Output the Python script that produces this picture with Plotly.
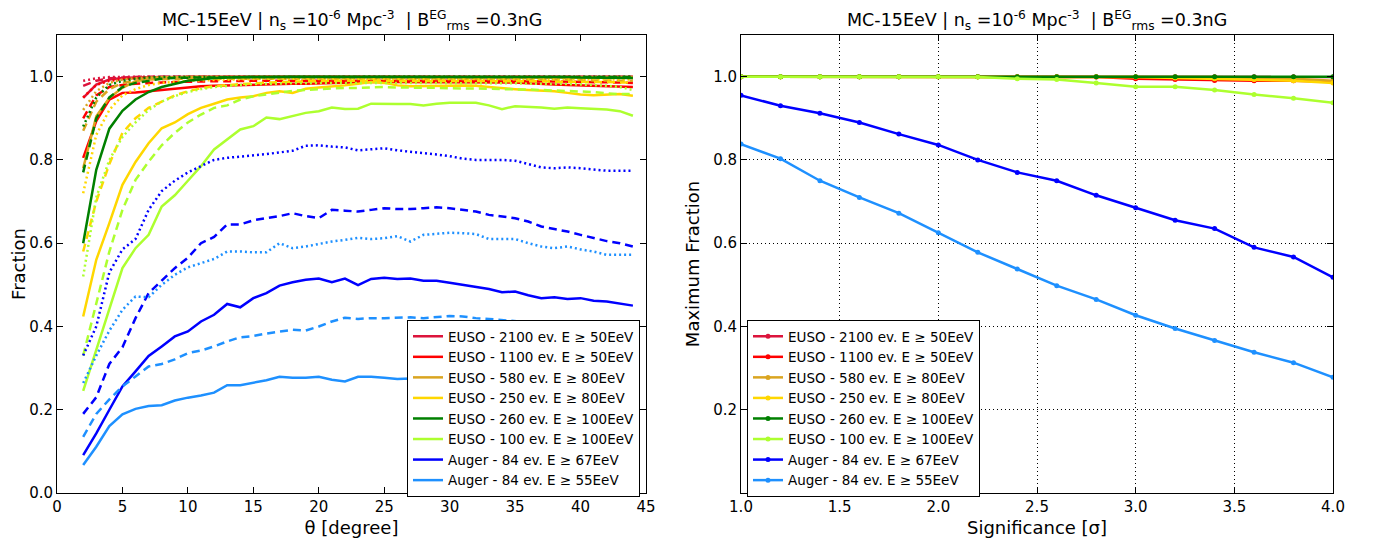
import plotly.graph_objects as go

# ---------------- data ----------------
theta = [2, 3, 4, 5, 6, 7, 8, 9, 10, 11,
         12, 13, 14, 15, 16, 17, 18, 19, 20, 21,
         22, 23, 24, 25, 26, 27, 28, 29, 30, 31,
         32, 33, 34, 35, 36, 37, 38, 39, 40, 41,
         42, 43, 44]

labels = ["EUSO - 2100 ev. E ≥ 50EeV", "EUSO - 1100 ev. E ≥ 50EeV",
          "EUSO - 580 ev. E ≥ 80EeV", "EUSO - 250 ev. E ≥ 80EeV",
          "EUSO - 260 ev. E ≥ 100EeV", "EUSO - 100 ev. E ≥ 100EeV",
          "Auger - 84 ev. E ≥ 67EeV", "Auger - 84 ev. E ≥ 55EeV"]

colors = ["#DC143C", "#FF0000", "#DAA520", "#FFD700",
          "#008000", "#ADFF2F", "#0000FF", "#1E90FF"]

crimson_solid = [0.949, 0.981, 0.993, 0.997, 0.998, 0.999, 0.999, 0.999, 1.0, 1.0,
                 1.0, 1.0, 1.0, 1.0, 1.0, 1.0, 1.0, 1.0, 1.0, 1.0,
                 1.0, 1.0, 1.0, 1.0, 1.0, 1.0, 1.0, 1.0, 1.0, 1.0,
                 1.0, 1.0, 1.0, 1.0, 1.0, 1.0, 1.0, 1.0, 1.0, 1.0,
                 1.0, 1.0, 0.999]
crimson_dash = [0.978, 0.990, 0.996, 0.998, 0.999, 1.0, 1.0, 1.0, 1.0, 1.0,
                1.0, 1.0, 1.0, 1.0, 1.0, 1.0, 1.0, 1.0, 1.0, 1.0,
                1.0, 1.0, 1.0, 1.0, 1.0, 1.0, 1.0, 1.0, 1.0, 1.0,
                1.0, 1.0, 1.0, 1.0, 1.0, 1.0, 1.0, 1.0, 1.0, 1.0,
                1.0, 1.0, 1.0]
crimson_dot = [0.990, 0.996, 0.999, 1.0, 1.0, 1.0, 1.0, 1.0, 1.0, 1.0,
               1.0, 1.0, 1.0, 1.0, 1.0, 1.0, 1.0, 1.0, 1.0, 1.0,
               1.0, 1.0, 1.0, 1.0, 1.0, 1.0, 1.0, 1.0, 1.0, 1.0,
               1.0, 1.0, 1.0, 1.0, 1.0, 1.0, 1.0, 1.0, 1.0, 1.0,
               1.0, 1.0, 1.0]

red_solid = [0.805, 0.893, 0.945, 0.961, 0.962, 0.965, 0.969, 0.971, 0.974, 0.977,
             0.978, 0.979, 0.980, 0.980, 0.981, 0.982, 0.983, 0.983, 0.984, 0.985,
             0.986, 0.986, 0.987, 0.987, 0.987, 0.987, 0.987, 0.987, 0.987, 0.987,
             0.987, 0.987, 0.987, 0.986, 0.984, 0.982, 0.981, 0.980, 0.979, 0.978,
             0.977, 0.976, 0.975]
red_dash = [0.900, 0.955, 0.975, 0.980, 0.983, 0.985, 0.986, 0.987, 0.988, 0.988,
            0.989, 0.989, 0.990, 0.990, 0.990, 0.990, 0.991, 0.991, 0.991, 0.991,
            0.991, 0.991, 0.991, 0.991, 0.991, 0.991, 0.991, 0.991, 0.991, 0.990,
            0.990, 0.990, 0.990, 0.990, 0.989, 0.989, 0.988, 0.988, 0.987, 0.987,
            0.986, 0.986, 0.985]
red_dot = [0.950, 0.980, 0.990, 0.994, 0.996, 0.997, 0.997, 0.998, 0.998, 0.998,
           0.998, 0.998, 0.998, 0.998, 0.998, 0.998, 0.998, 0.998, 0.998, 0.998,
           0.998, 0.998, 0.998, 0.998, 0.998, 0.998, 0.998, 0.998, 0.998, 0.998,
           0.998, 0.998, 0.998, 0.998, 0.998, 0.997, 0.997, 0.997, 0.997, 0.997,
           0.997, 0.997, 0.997]

goldenrod_solid = [0.780, 0.905, 0.949, 0.973, 0.989, 0.996, 0.998, 0.999, 0.999, 0.999,
                   0.999, 0.999, 0.999, 0.999, 0.999, 0.999, 0.999, 0.999, 0.999, 0.999,
                   0.999, 0.999, 0.999, 0.999, 0.999, 0.999, 0.999, 0.999, 0.999, 0.999,
                   0.999, 0.999, 0.999, 0.999, 0.999, 0.999, 0.999, 0.999, 0.999, 0.999,
                   0.998, 0.998, 0.998]
goldenrod_dash = [0.870, 0.940, 0.970, 0.985, 0.990, 0.993, 0.994, 0.995, 0.995, 0.995,
                  0.995, 0.995, 0.995, 0.995, 0.995, 0.995, 0.995, 0.995, 0.995, 0.995,
                  0.995, 0.995, 0.995, 0.995, 0.995, 0.995, 0.995, 0.995, 0.995, 0.995,
                  0.994, 0.994, 0.994, 0.993, 0.993, 0.993, 0.992, 0.992, 0.992, 0.991,
                  0.991, 0.990, 0.990]
goldenrod_dot = [0.920, 0.965, 0.985, 0.993, 0.996, 0.998, 0.998, 0.999, 0.999, 0.999,
                 0.999, 0.999, 0.999, 0.999, 0.999, 0.999, 0.999, 0.999, 0.999, 0.999,
                 0.999, 0.999, 0.999, 0.999, 0.999, 0.999, 0.999, 0.999, 0.999, 0.999,
                 0.999, 0.999, 0.999, 0.999, 0.999, 0.999, 0.999, 0.999, 0.999, 0.999,
                 0.999, 0.999, 0.999]

yellow_solid = [0.424, 0.560, 0.648, 0.740, 0.795, 0.840, 0.876, 0.890, 0.910, 0.925,
                0.935, 0.945, 0.950, 0.953, 0.961, 0.965, 0.961, 0.971, 0.974, 0.976,
                0.979, 0.983, 0.987, 0.985, 0.979, 0.977, 0.977, 0.977, 0.978, 0.979,
                0.978, 0.975, 0.972, 0.970, 0.968, 0.966, 0.965, 0.961, 0.957, 0.955,
                0.956, 0.958, 0.954]
yellow_dash = [0.580, 0.700, 0.790, 0.865, 0.900, 0.925, 0.940, 0.955, 0.965, 0.972,
               0.977, 0.980, 0.982, 0.984, 0.986, 0.987, 0.988, 0.989, 0.990, 0.990,
               0.990, 0.990, 0.990, 0.990, 0.990, 0.990, 0.990, 0.990, 0.990, 0.990,
               0.990, 0.990, 0.990, 0.989, 0.989, 0.989, 0.988, 0.988, 0.988, 0.987,
               0.987, 0.986, 0.986]
yellow_dot = [0.720, 0.860, 0.920, 0.955, 0.970, 0.980, 0.985, 0.988, 0.990, 0.991,
              0.992, 0.993, 0.994, 0.994, 0.995, 0.995, 0.995, 0.995, 0.995, 0.995,
              0.995, 0.995, 0.995, 0.995, 0.995, 0.995, 0.995, 0.995, 0.995, 0.995,
              0.995, 0.995, 0.995, 0.995, 0.995, 0.994, 0.994, 0.994, 0.994, 0.994,
              0.993, 0.993, 0.993]

green_solid = [0.600, 0.776, 0.875, 0.918, 0.945, 0.963, 0.975, 0.983, 0.990, 0.993,
               0.997, 0.998, 0.999, 0.999, 0.999, 1.0, 1.0, 1.0, 1.0, 1.0,
               1.0, 1.0, 1.0, 1.0, 1.0, 1.0, 1.0, 1.0, 1.0, 1.0,
               1.0, 1.0, 1.0, 1.0, 0.999, 0.999, 0.999, 0.999, 0.998, 0.998,
               0.998, 0.997, 0.997]
green_dash = [0.770, 0.900, 0.950, 0.975, 0.985, 0.990, 0.995, 0.997, 0.998, 0.998,
              0.998, 0.999, 0.999, 0.999, 0.999, 0.999, 0.999, 0.999, 0.999, 0.999,
              0.999, 0.999, 0.999, 0.999, 0.999, 0.999, 0.999, 0.999, 0.999, 0.999,
              0.999, 0.999, 0.999, 0.999, 0.999, 0.999, 0.999, 0.999, 0.999, 0.999,
              0.999, 0.999, 0.999]
green_dot = [0.880, 0.950, 0.980, 0.990, 0.995, 0.998, 0.999, 0.999, 0.999, 1.0,
             1.0, 1.0, 1.0, 1.0, 1.0, 1.0, 1.0, 1.0, 1.0, 1.0,
             1.0, 1.0, 1.0, 1.0, 1.0, 1.0, 1.0, 1.0, 1.0, 1.0,
             1.0, 1.0, 1.0, 1.0, 1.0, 1.0, 1.0, 1.0, 1.0, 1.0,
             1.0, 1.0, 1.0]

yellowgreen_solid = [0.245, 0.345, 0.445, 0.540, 0.588, 0.620, 0.688, 0.715, 0.750, 0.785,
                     0.825, 0.850, 0.873, 0.881, 0.902, 0.898, 0.905, 0.913, 0.917, 0.926,
                     0.922, 0.923, 0.935, 0.934, 0.934, 0.934, 0.931, 0.935, 0.937, 0.937,
                     0.937, 0.931, 0.922, 0.929, 0.928, 0.926, 0.923, 0.926, 0.924, 0.922,
                     0.921, 0.917, 0.906]
yellowgreen_dash = [0.330, 0.456, 0.580, 0.680, 0.752, 0.796, 0.835, 0.865, 0.890, 0.909,
                    0.925, 0.931, 0.945, 0.953, 0.957, 0.961, 0.966, 0.968, 0.970, 0.971,
                    0.973, 0.973, 0.974, 0.975, 0.974, 0.974, 0.974, 0.973, 0.972, 0.972,
                    0.972, 0.971, 0.970, 0.970, 0.969, 0.968, 0.967, 0.966, 0.965, 0.963,
                    0.960, 0.958, 0.958]
yellowgreen_dot = [0.520, 0.710, 0.800, 0.855, 0.890, 0.920, 0.940, 0.953, 0.963, 0.970,
                   0.975, 0.978, 0.980, 0.982, 0.983, 0.983, 0.984, 0.984, 0.985, 0.985,
                   0.985, 0.985, 0.985, 0.985, 0.985, 0.985, 0.985, 0.985, 0.985, 0.985,
                   0.985, 0.985, 0.984, 0.984, 0.983, 0.983, 0.982, 0.982, 0.981, 0.980,
                   0.978, 0.975, 0.968]

blue_solid = [0.091, 0.143, 0.200, 0.256, 0.292, 0.329, 0.352, 0.376, 0.388, 0.412,
              0.428, 0.454, 0.446, 0.468, 0.480, 0.498, 0.506, 0.512, 0.515, 0.506,
              0.515, 0.499, 0.514, 0.517, 0.514, 0.515, 0.510, 0.510, 0.505, 0.500,
              0.495, 0.490, 0.482, 0.484, 0.475, 0.468, 0.470, 0.466, 0.468, 0.462,
              0.460, 0.455, 0.450]
blue_dash = [0.190, 0.230, 0.310, 0.350, 0.420, 0.480, 0.510, 0.540, 0.565, 0.600,
             0.615, 0.645, 0.645, 0.655, 0.660, 0.665, 0.672, 0.665, 0.660, 0.680,
             0.678, 0.676, 0.680, 0.684, 0.682, 0.682, 0.684, 0.686, 0.684, 0.680,
             0.676, 0.668, 0.664, 0.660, 0.652, 0.640, 0.634, 0.628, 0.620, 0.612,
             0.605, 0.600, 0.592]
blue_dot = [0.330, 0.400, 0.530, 0.585, 0.610, 0.680, 0.725, 0.750, 0.770, 0.785,
            0.800, 0.805, 0.808, 0.810, 0.814, 0.818, 0.822, 0.834, 0.835, 0.832,
            0.830, 0.823, 0.825, 0.828, 0.823, 0.820, 0.817, 0.813, 0.809, 0.803,
            0.800, 0.800, 0.800, 0.798, 0.790, 0.782, 0.780, 0.782, 0.780, 0.777,
            0.774, 0.774, 0.774]

lightblue_solid = [0.067, 0.111, 0.161, 0.189, 0.202, 0.209, 0.211, 0.222, 0.229, 0.234,
                   0.241, 0.259, 0.259, 0.265, 0.271, 0.279, 0.277, 0.277, 0.279, 0.272,
                   0.268, 0.279, 0.279, 0.277, 0.274, 0.275, 0.272, 0.270, 0.268, 0.266,
                   0.262, 0.260, 0.258, 0.256, 0.255, 0.252, 0.250, 0.248, 0.247, 0.245,
                   0.244, 0.242, 0.240]
lightblue_dash = [0.135, 0.190, 0.225, 0.256, 0.280, 0.304, 0.310, 0.321, 0.336, 0.342,
                  0.352, 0.364, 0.374, 0.377, 0.383, 0.387, 0.392, 0.390, 0.400, 0.412,
                  0.421, 0.418, 0.420, 0.420, 0.421, 0.422, 0.420, 0.422, 0.425, 0.424,
                  0.420, 0.418, 0.415, 0.412, 0.410, 0.405, 0.402, 0.400, 0.398, 0.395,
                  0.392, 0.390, 0.388]
lightblue_dot = [0.264, 0.330, 0.390, 0.440, 0.472, 0.470, 0.500, 0.524, 0.542, 0.552,
                 0.562, 0.580, 0.580, 0.578, 0.578, 0.600, 0.588, 0.592, 0.598, 0.604,
                 0.608, 0.613, 0.610, 0.612, 0.617, 0.604, 0.620, 0.622, 0.625, 0.624,
                 0.622, 0.610, 0.610, 0.610, 0.600, 0.592, 0.588, 0.592, 0.585, 0.580,
                 0.572, 0.572, 0.572]

# right panel: maximum fraction vs significance
sigma = [1.0, 1.2, 1.4, 1.6, 1.8, 2.0, 2.2, 2.4, 2.6, 2.8, 3.0, 3.2, 3.4, 3.6, 3.8, 4.0]
max_crimson = [1.0, 1.0, 1.0, 1.0, 1.0, 1.0, 1.0, 1.0, 1.0, 1.0, 1.0, 1.0, 1.0, 1.0, 1.0, 0.999]
max_red = [1.0, 1.0, 1.0, 1.0, 1.0, 1.0, 1.0, 1.0, 1.0, 0.999, 0.995, 0.993, 0.991, 0.990, 0.990, 0.988]
max_goldenrod = [1.0, 1.0, 1.0, 1.0, 1.0, 1.0, 1.0, 1.0, 1.0, 1.0, 1.0, 1.0, 0.999, 0.997, 0.995, 0.990]
max_yellow = [1.0, 1.0, 1.0, 1.0, 1.0, 1.0, 1.0, 1.0, 1.0, 1.0, 0.999, 0.997, 0.995, 0.993, 0.990, 0.985]
max_green = [1.0, 1.0, 1.0, 1.0, 1.0, 1.0, 1.0, 1.0, 1.0, 1.0, 1.0, 1.0, 1.0, 1.0, 1.0, 1.0]
max_yellowgreen = [1.0, 1.0, 1.0, 1.0, 1.0, 1.0, 0.999, 0.995, 0.993, 0.985, 0.976, 0.976, 0.968, 0.957, 0.948, 0.937]
max_blue = [0.955, 0.930, 0.912, 0.890, 0.862, 0.836, 0.800, 0.770, 0.750, 0.715, 0.685, 0.655, 0.635, 0.590, 0.567, 0.518]
max_lightblue = [0.838, 0.803, 0.750, 0.710, 0.672, 0.625, 0.578, 0.538, 0.498, 0.465, 0.427, 0.395, 0.366, 0.338, 0.313, 0.278]

left_series = [
    [crimson_solid, crimson_dash, crimson_dot],
    [red_solid, red_dash, red_dot],
    [goldenrod_solid, goldenrod_dash, goldenrod_dot],
    [yellow_solid, yellow_dash, yellow_dot],
    [green_solid, green_dash, green_dot],
    [yellowgreen_solid, yellowgreen_dash, yellowgreen_dot],
    [blue_solid, blue_dash, blue_dot],
    [lightblue_solid, lightblue_dash, lightblue_dot],
]
right_series = [max_crimson, max_red, max_goldenrod, max_yellow,
                max_green, max_yellowgreen, max_blue, max_lightblue]

# ---------------- figure ----------------
FONT = "DejaVu Sans"
dash_styles = ["solid", "8px,5px", "2px,3px"]

fig = go.Figure()
for lab, col, trio in zip(labels, colors, left_series):
    for k, ys in enumerate(trio):
        fig.add_trace(go.Scatter(
            x=theta, y=ys, mode="lines", name=lab,
            line=dict(color=col, width=2.5, dash=dash_styles[k]),
            showlegend=(k == 0), legend="legend",
            xaxis="x", yaxis="y"))

for lab, col, ys in zip(labels, colors, right_series):
    fig.add_trace(go.Scatter(
        x=sigma, y=ys, mode="lines+markers", name=lab,
        line=dict(color=col, width=2.5),
        marker=dict(color=col, size=5),
        legend="legend2", xaxis="x2", yaxis="y2"))

# page body has an 8px margin: compensate so the plot lands where the reference has it
OFF = 8
W, H = 1376 - OFF, 544 - OFF
ml, mt = 57 - OFF, 35 - OFF
right_edge, bottom_edge = 1333 - OFF, 493 - OFF
mr, mb = W - right_edge, H - bottom_edge
pw = W - ml - mr
ph = H - mt - mb
d1 = (646 - 57) / pw
d2 = (741 - 57) / pw

axis_common = dict(showline=True, linecolor="black", linewidth=1, mirror="allticks",
                   ticks="inside", ticklen=6, tickcolor="black",
                   tickfont=dict(family=FONT, size=15, color="black"),
                   zeroline=False, automargin=False)

title_text = ("MC-15EeV | n<sub>s</sub> =10<sup>-6</sup> Mpc<sup>-3</sup>  | "
              "B<sup>EG</sup><sub>rms</sub> =0.3nG")

legend_common = dict(bgcolor="white", bordercolor="black", borderwidth=1,
                     font=dict(family=FONT, size=13.5, color="black"),
                     xanchor="left", yanchor="top", tracegroupgap=0,
                     itemwidth=30)

grid_common = dict(showgrid=True, gridcolor="black", griddash="1px,3px", gridwidth=1)

title_y = 1 + (35 - 20) / ph

fig.update_layout(
    width=W, height=H,
    margin=dict(l=ml, r=mr, t=mt, b=mb, autoexpand=False),
    paper_bgcolor="white", plot_bgcolor="white",
    font=dict(family=FONT, color="black"),
    xaxis=dict(domain=[0, d1], range=[0, 45], tickvals=[0, 5, 10, 15, 20, 25, 30, 35, 40, 45],
               showgrid=False, anchor="y",
               title=dict(text="θ [degree]", font=dict(family=FONT, size=18), standoff=6),
               **axis_common),
    yaxis=dict(domain=[0, 1], range=[0, 1.1], tickvals=[0, 0.2, 0.4, 0.6, 0.8, 1.0],
               tickformat=".1f", showgrid=False, anchor="x",
               title=dict(text="Fraction", font=dict(family=FONT, size=18), standoff=8),
               **axis_common),
    xaxis2=dict(domain=[d2, 1], range=[1, 4], tickvals=[1.0, 1.5, 2.0, 2.5, 3.0, 3.5, 4.0],
                tickformat=".1f", anchor="y2",
                title=dict(text="Significance [σ]", font=dict(family=FONT, size=18), standoff=6),
                **grid_common, **axis_common),
    yaxis2=dict(domain=[0, 1], range=[0, 1.1], tickvals=[0.2, 0.4, 0.6, 0.8, 1.0],
                tickformat=".1f", anchor="x2",
                title=dict(text="Maximum Fraction", font=dict(family=FONT, size=18), standoff=8),
                **grid_common, **axis_common),
    legend=dict(x=(407 - 57) / pw, y=(493 - 320) / ph, **legend_common),
    legend2=dict(x=(747 - 57) / pw, y=(493 - 320) / ph, **legend_common),
    annotations=[
        dict(text=title_text, x=d1 / 2, y=title_y, xref="paper", yref="paper",
             xanchor="center", yanchor="middle", showarrow=False,
             font=dict(family=FONT, size=17.5, color="black")),
        dict(text=title_text, x=(d2 + 1) / 2, y=title_y, xref="paper", yref="paper",
             xanchor="center", yanchor="middle", showarrow=False,
             font=dict(family=FONT, size=17.5, color="black")),
    ],
)

fig.write_html("out.html")
